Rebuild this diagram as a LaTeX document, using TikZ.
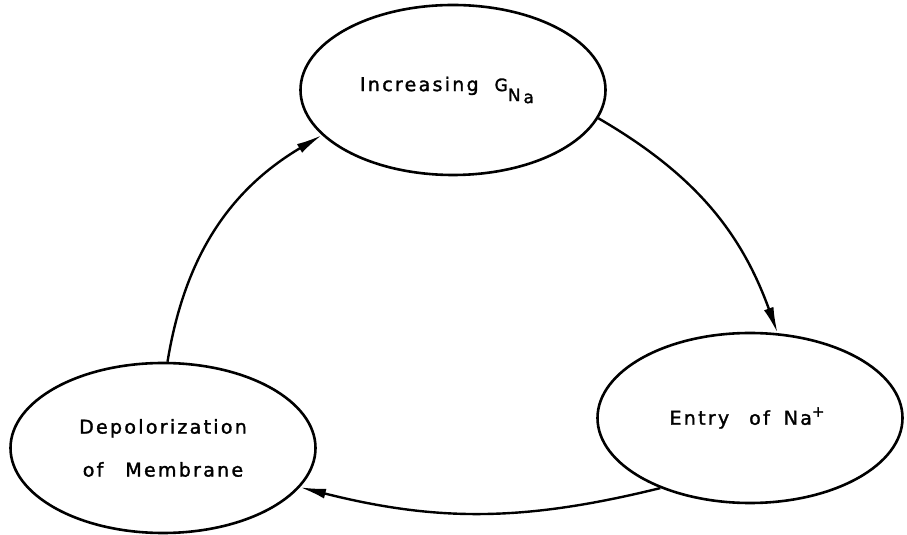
\documentclass[tikz,border=0pt]{standalone}
\usepackage{fontspec}
\newfontfamily\lettering[LetterSpace=12,FakeBold=1.6]{DejaVu Sans}
\usepackage{tikz}
\usetikzlibrary{arrows.meta,positioning,shapes.geometric}

\begin{document}
\begin{tikzpicture}[>={Latex[length=26pt,width=10pt]},line width=2.4pt,
                    font=\lettering\fontsize{19}{43}\selectfont]
  \tikzstyle{phase}=[ellipse,draw,line width=2.6pt,minimum width=305pt,
                     minimum height=170pt,inner sep=0pt,align=center]
  \useasboundingbox (0pt,0pt) rectangle (907pt,535pt);

  \node[phase] (incr) at (453pt,445pt)
        {Increasing\hspace{16pt}{\fontsize{17}{17}\selectfont G\raisebox{-10pt}{N\hspace{3pt}\raisebox{-2pt}{a}}}\hspace{12pt}};

  \node[phase] (entry) [on grid,below right=328pt and 297pt of incr]
        {Entry\hspace{20pt}of\hspace{14pt}Na\raisebox{8pt}{\fontsize{15}{15}\selectfont +}\hspace{6pt}};

  \node[phase] (depol) [on grid,below left=358pt and 290pt of incr]
        {Depolorization\\of\hspace{22pt}Membrane};

  \draw[->] (depol.87)  to[bend left=25] (incr.199);
  \draw[->] (incr.349)  to[bend left=20] (entry.72);
  \draw[->] (entry.218) to[bend left=14] (depol.344);
\end{tikzpicture}
\end{document}
